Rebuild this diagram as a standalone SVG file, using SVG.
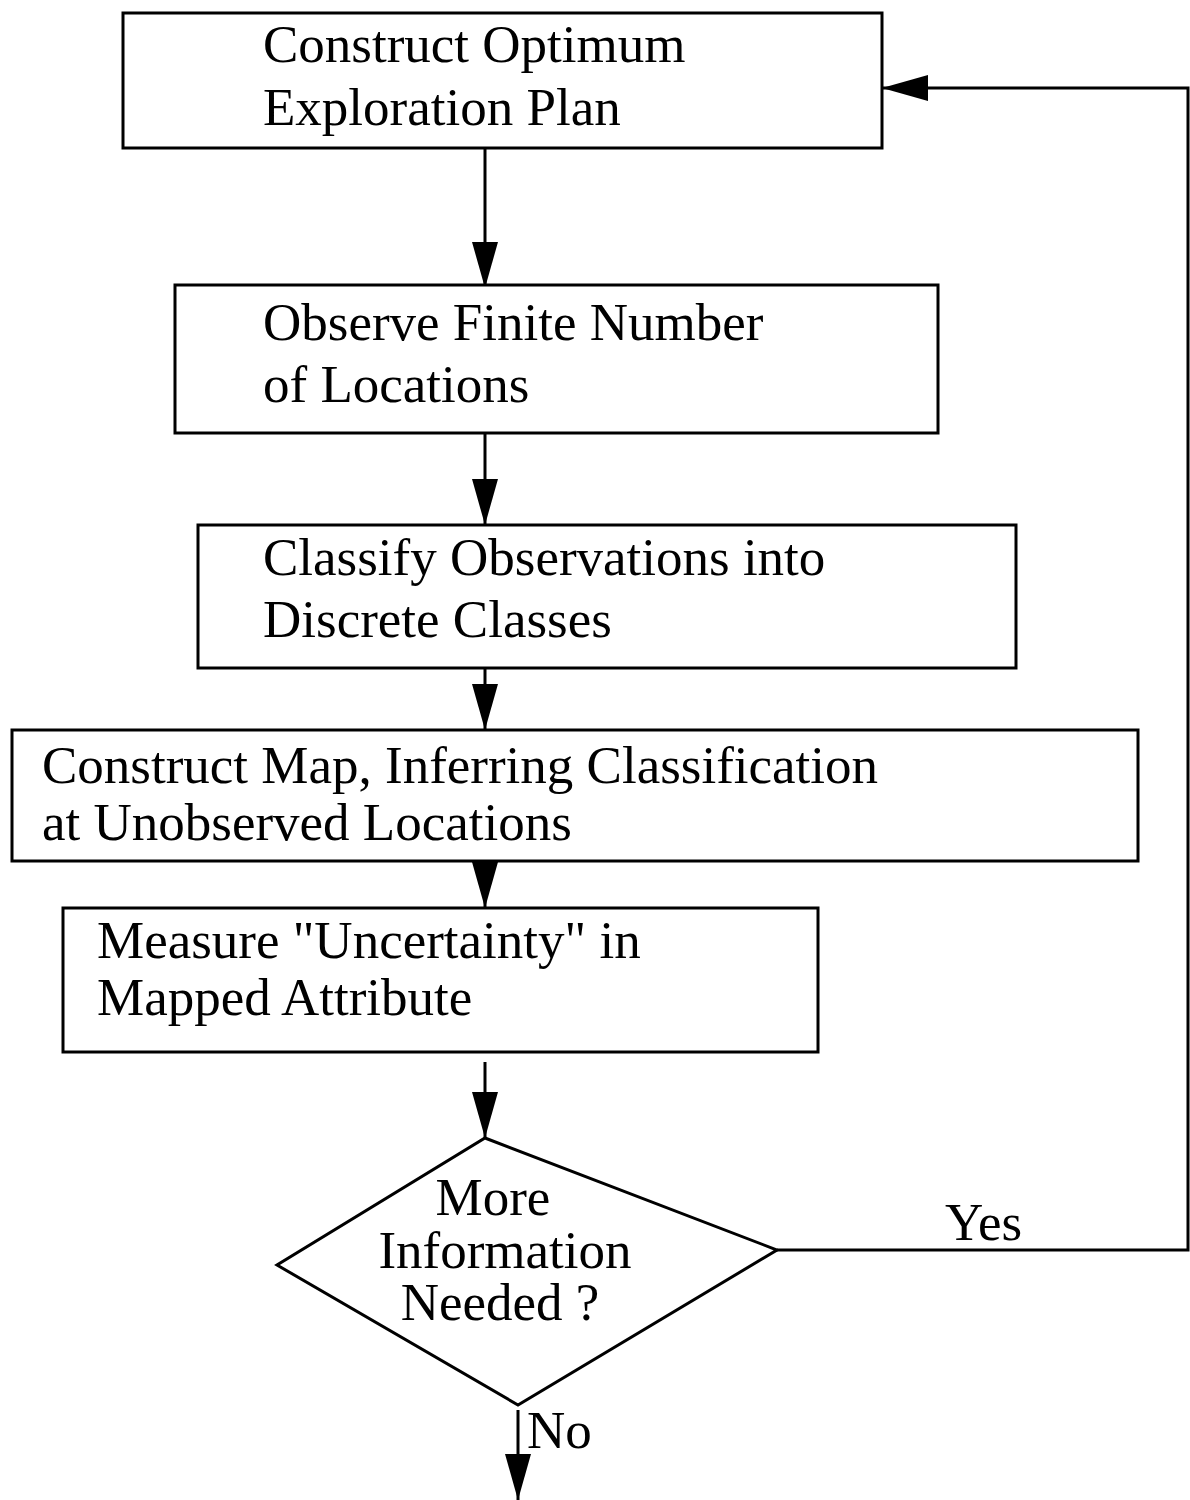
<svg xmlns="http://www.w3.org/2000/svg" width="1190" height="1500" viewBox="0 0 1190 1500">
<style>
.box{fill:#fff;stroke:#000;stroke-width:3}
.t{font-family:"Liberation Serif","Times New Roman",serif;font-size:53px;fill:#000}
.c{text-anchor:middle}
.ln{fill:none;stroke:#000;stroke-width:3}
</style>
<defs>
<marker id="ah" viewBox="0 0 46 26" refX="46" refY="13" markerWidth="46" markerHeight="26" markerUnits="userSpaceOnUse" orient="auto">
<path d="M0,0 L46,13 L0,26 Z" fill="#000"/>
</marker>
</defs>
<rect width="1190" height="1500" fill="#fff"/>
<g id="connectors">
<line class="ln" x1="485" y1="148" x2="485" y2="288" marker-end="url(#ah)"/>
<line class="ln" x1="485" y1="433" x2="485" y2="525" marker-end="url(#ah)"/>
<line class="ln" x1="485" y1="668" x2="485" y2="730" marker-end="url(#ah)"/>
<line class="ln" x1="485" y1="861" x2="485" y2="908" marker-end="url(#ah)"/>
<line class="ln" x1="485" y1="1062" x2="485" y2="1138" marker-end="url(#ah)"/>
<polyline class="ln" points="777,1250 1188,1250 1188,88 882,88" marker-end="url(#ah)"/>
<line class="ln" x1="518" y1="1410" x2="518" y2="1500" marker-end="url(#ah)"/>
<text class="t" x="945" y="1240">Yes</text>
<text class="t" x="527" y="1448">No</text>
</g>
<g id="n1">
<rect class="box" x="123" y="13" width="759" height="135"/>
<text class="t" x="263" y="62">Construct Optimum</text>
<text class="t" x="263" y="125">Exploration Plan</text>
</g>
<g id="n2">
<rect class="box" x="175" y="285" width="763" height="148"/>
<text class="t" x="263" y="340">Observe Finite Number</text>
<text class="t" x="263" y="402">of Locations</text>
</g>
<g id="n3">
<rect class="box" x="198" y="525" width="818" height="143"/>
<text class="t" x="263" y="575">Classify Observations into</text>
<text class="t" x="263" y="637">Discrete Classes</text>
</g>
<g id="n4">
<rect class="box" x="12" y="730" width="1126" height="131"/>
<text class="t" x="42" y="783">Construct Map, Inferring Classification</text>
<text class="t" x="42" y="840">at Unobserved Locations</text>
</g>
<g id="n5">
<rect class="box" x="63" y="908" width="755" height="144"/>
<text class="t" x="97" y="958">Measure "Uncertainty" in</text>
<text class="t" x="97" y="1015">Mapped Attribute</text>
</g>
<g id="n6">
<polygon class="box" points="485,1138 777,1250 518,1405 277,1265"/>
<text class="t c" x="493" y="1215">More</text>
<text class="t c" x="505" y="1268">Information</text>
<text class="t c" x="500" y="1320">Needed ?</text>
</g>
</svg>
